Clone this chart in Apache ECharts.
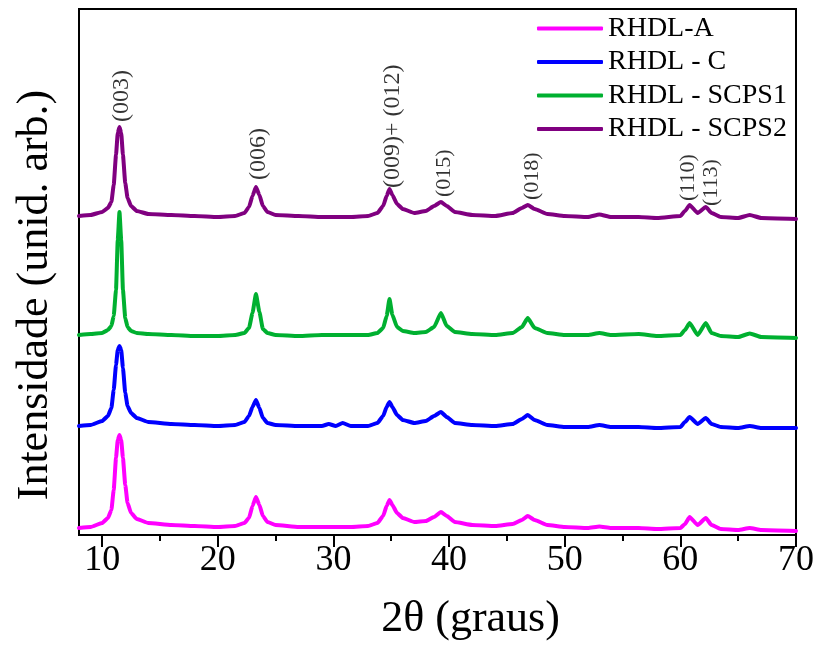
<!DOCTYPE html>
<html>
<head>
<meta charset="utf-8">
<script src="https://cdn.jsdelivr.net/npm/echarts@6/dist/echarts.min.js"></script>
<style>html,body{margin:0;padding:0;background:#fff}#c{width:824px;height:648px}</style>
</head>
<body>
<div id="c"></div>
<script>
// 2θ positions (degrees) at which each curve was read
const twoTheta = [8, 9, 10, 10.5, 10.8, 11.0, 11.2, 11.35, 11.5, 11.65, 11.8, 12.0, 12.2, 12.5, 13, 14, 16, 18, 20, 21.5,
  22.3, 22.7, 23.0, 23.3, 23.6, 23.9, 24.3, 25, 27, 29, 29.6, 30.2, 30.8, 31.5, 33, 33.8, 34.3, 34.6, 34.85, 35.1,
  35.5, 36, 37, 38, 38.7, 39.3, 39.8, 40.5, 42, 44, 45.5, 46.3, 46.8, 47.4, 48.5, 50, 52, 53, 54, 56.4,
  58, 60, 60.4, 60.8, 61.5, 62.2, 62.7, 63.5, 65, 66, 67, 70];

// Stacked (offset) intensities, arbitrary units
const rhdlA = [7, 8, 12, 17, 25, 45, 77, 95, 100, 95, 77, 50, 32, 22, 16, 12, 10, 9, 8, 9,
  12, 17, 29, 38, 30, 19, 13, 10, 8, 8, 8, 8, 8, 8, 9, 12, 19, 29, 35, 30,
  22, 17, 13, 14, 18, 23, 19, 13, 10, 9, 11, 15, 19, 15, 10, 8, 7, 8.5, 7, 7,
  6, 7, 11, 18, 10, 17, 10, 6, 5, 7, 5, 4];
const rhdlC = [109, 110, 114, 119, 127, 145, 170, 185, 189, 185, 167, 142, 129, 122, 117, 113, 111, 110, 109, 110,
  113, 119, 128, 135, 127, 117, 112, 110, 109, 109, 111, 109, 112, 109, 109, 112, 119, 128, 133, 128,
  120, 115, 112, 114, 119, 123, 118, 112, 110, 109, 111, 116, 120, 115, 110, 108, 108, 110, 108, 108,
  107, 108, 113, 118, 111, 117, 111, 108, 107, 109, 107, 107];
const rhdlSCPS1 = [200, 201, 202, 205, 209, 219, 245, 295, 323, 295, 245, 217, 208, 204, 202, 201, 200, 199, 199, 200,
  202, 207, 222, 241, 223, 206, 202, 200, 199, 200, 200, 200, 200, 200, 200, 202, 207, 219, 236, 220,
  208, 204, 202, 203, 208, 222, 209, 203, 201, 200, 202, 208, 217, 207, 202, 200, 200, 202, 200, 201,
  199, 200, 205, 212, 200, 212, 202, 199, 198, 201.5, 198, 197];
const rhdlSCPS2 = [319, 320, 323, 327, 333, 350, 380, 402, 408, 402, 380, 352, 337, 329, 324, 321, 320, 319, 318, 319,
  322, 328, 339, 348, 340, 329, 323, 320, 319, 318, 318, 318, 318, 318, 319, 322, 329, 339, 346, 340,
  331, 326, 322, 324, 329, 333, 329, 323, 320, 319, 322, 327, 330, 326, 321, 319, 318, 320.5, 318, 318,
  317, 319, 324, 330, 322, 328, 322, 318, 317, 320, 317, 316];

const seriesNames = ['RHDL-A', 'RHDL - C', 'RHDL - SCPS1', 'RHDL - SCPS2'];

// Peak (Miller index) annotations: text, 2θ, intensity at text start
const peakLabelText = ['(003)', '(006)', '(009)+ (012)', '(015)', '(018)', '(110)', '(113)'];
const peakLabelX = [11.7, 23.5, 35.1, 39.6, 47.15, 60.65, 62.66];
const peakLabelY = [413, 355, 347, 338, 335, 334, 329];

const xMajorTicks = [10, 20, 30, 40, 50, 60, 70];
const xMinorTicks = [15, 25, 35, 45, 55, 65];

// ---------- rendering ----------
const colors = ['#FF00FF', '#0000FF', '#00B030', '#800080'];
const curves = [rhdlA, rhdlC, rhdlSCPS1, rhdlSCPS2];
const FONT = '"Liberation Serif", "Times New Roman", serif';
const labelSizes = [24, 24, 24, 22, 22, 22, 22];

const chart = echarts.init(document.getElementById('c'), null, {renderer: 'canvas'});

const lineSeries = curves.map((vals, i) => ({
  name: seriesNames[i],
  type: 'line',
  xAxisIndex: 0,
  data: twoTheta.map((x, k) => [x, vals[k]]),
  showSymbol: false,
  symbol: 'none',
  smooth: 0.15,
  smoothMonotone: 'x',
  lineStyle: {color: colors[i], width: 4, cap: 'round', join: 'round'},
  itemStyle: {color: colors[i]},
  silent: true
}));

const labelSeries = {
  type: 'scatter',
  xAxisIndex: 0,
  symbolSize: 0,
  silent: true,
  data: peakLabelText.map((t, i) => ({
    value: [peakLabelX[i], peakLabelY[i]],
    label: {
      show: true,
      formatter: t,
      position: [0, 0],
      rotate: 90,
      align: 'left',
      verticalAlign: 'middle',
      fontSize: labelSizes[i],
      fontFamily: FONT,
      color: '#000'
    }
  }))
};

chart.setOption({
  animation: false,
  backgroundColor: '#fff',
  grid: {left: 79, right: 28, top: 9, bottom: 113, show: true, borderColor: '#000', borderWidth: 2, containLabel: false},
  legend: {
    data: seriesNames,
    orient: 'vertical',
    left: 537,
    top: 14,
    padding: 0,
    icon: 'roundRect',
    itemWidth: 66,
    itemHeight: 4,
    itemGap: 4.5,
    textStyle: {fontSize: 28, fontFamily: FONT, color: '#000', lineHeight: 29}
  },
  xAxis: [{
    type: 'value',
    min: 8,
    max: 70,
    position: 'bottom',
    splitLine: {show: false},
    axisLine: {lineStyle: {color: '#000', width: 2}},
    axisTick: {customValues: xMajorTicks, length: 12, lineStyle: {color: '#000', width: 2}},
    axisLabel: {customValues: xMajorTicks, fontSize: 36, fontFamily: FONT, color: '#000', margin: 8},
    name: '2θ (graus)',
    nameLocation: 'middle',
    nameGap: 62,
    nameTextStyle: {fontSize: 44, fontFamily: FONT, color: '#000', padding: [0, 0, 0, 66]}
  }, {
    type: 'value',
    min: 8,
    max: 70,
    position: 'bottom',
    splitLine: {show: false},
    axisLine: {show: false},
    axisTick: {customValues: xMinorTicks, length: 6, lineStyle: {color: '#000', width: 2}},
    axisLabel: {show: false}
  }],
  yAxis: {
    type: 'value',
    min: 0,
    max: 526,
    splitLine: {show: false},
    axisLine: {show: true, lineStyle: {color: '#000', width: 2}},
    axisTick: {show: false},
    axisLabel: {show: false},
    name: 'Intensidade (unid. arb.)',
    nameLocation: 'middle',
    nameGap: 22,
    nameTextStyle: {fontSize: 44, fontFamily: FONT, color: '#000', padding: [0, 46, 0, 0]}
  },
  series: [...lineSeries, labelSeries]
});
</script>
</body>
</html>
